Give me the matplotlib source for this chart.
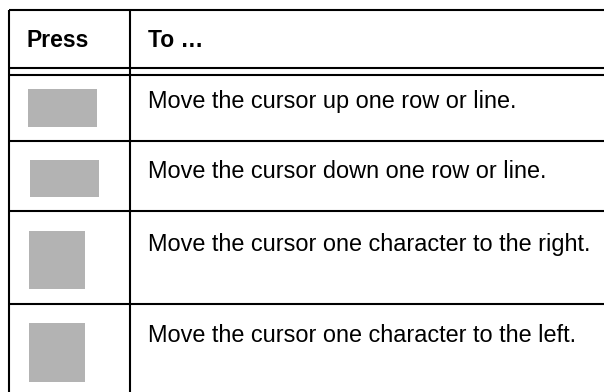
import matplotlib
matplotlib.use('Agg')
import matplotlib.pyplot as plt
from matplotlib.patches import Rectangle

# table content
headers = ['Press', 'To …']
actions = [
    'Move the cursor up one row or line.',
    'Move the cursor down one row or line.',
    'Move the cursor one character to the right.',
    'Move the cursor one character to the left.',
]

W, H = 604, 392
line_color = 'black'
key_color = '#b3b3b3'
lw = 1.5

# layout in pixels (y measured from the top)
left_x = 9
divider_x = 130
top_y = 10
header_lines = [67.5, 75]
row_lines = [141, 211, 304]
row_bottoms = [141, 211, 304, 400]
baselines = [108, 178, 251, 342]
key_boxes = [(28, 89, 69, 38), (30, 160, 69, 37), (29, 231, 56, 58), (29, 323, 56, 59)]

fig = plt.figure(figsize=(W / 100, H / 100), dpi=100)
ax = fig.add_axes([0, 0, 1, 1])
ax.set_xlim(0, W)
ax.set_ylim(H, 0)
ax.axis('off')

# borders
ax.plot([left_x, W], [top_y, top_y], color=line_color, lw=lw, solid_capstyle='butt')
ax.plot([left_x, left_x], [top_y, H], color=line_color, lw=lw, solid_capstyle='butt')
ax.plot([divider_x, divider_x], [top_y, H], color=line_color, lw=lw, solid_capstyle='butt')
for y in header_lines + row_lines:
    ax.plot([left_x, W], [y, y], color=line_color, lw=lw, solid_capstyle='butt')

# header
font = ['Liberation Sans', 'DejaVu Sans']
ax.text(27, 46.5, headers[0], fontsize=16.5, fontweight='bold', family=font, va='baseline')
ax.text(148, 46.5, headers[1], fontsize=16.5, fontweight='bold', family=font, va='baseline')

# rows
for (bx, by, bw, bh), text, base in zip(key_boxes, actions, baselines):
    ax.add_patch(Rectangle((bx, by), bw, bh, facecolor=key_color, edgecolor='none'))
    ax.text(148, base, text, fontsize=16.9, family=font, va='baseline')

fig.savefig('out.png', dpi=100)
